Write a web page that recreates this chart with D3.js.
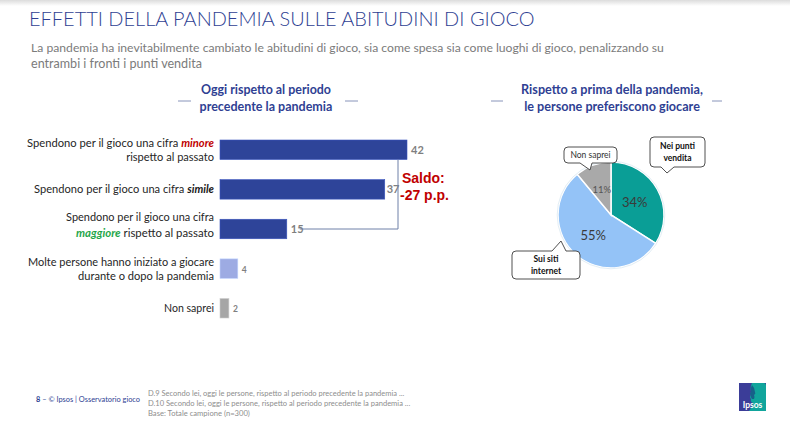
<!DOCTYPE html>
<html><head><meta charset="utf-8">
<script src="https://cdn.jsdelivr.net/npm/d3@7"></script>
<style>
html,body{margin:0;padding:0;background:#fff;}
svg{display:block;font-family:Lato,"Open Sans",sans-serif;}
</style></head>
<body>
<svg id="c" width="790" height="428"></svg>
<script>
// ---------- data ----------
const title = "EFFETTI DELLA PANDEMIA SULLE ABITUDINI DI GIOCO";
const subtitleLines = [
  "La pandemia ha inevitabilmente cambiato le abitudini di gioco, sia come spesa sia come luoghi di gioco, penalizzando su",
  "entrambi i fronti i punti vendita"
];
const leftHeader = ["Oggi rispetto al periodo", "precedente la pandemia"];
const rightHeader = ["Rispetto a prima della pandemia,", "le persone preferiscono giocare"];
const categories = [
  "Spendono per il gioco una cifra minore rispetto al passato",
  "Spendono per il gioco una cifra simile",
  "Spendono per il gioco una cifra maggiore rispetto al passato",
  "Molte persone hanno iniziato a giocare durante o dopo la pandemia",
  "Non saprei"
];
const categoryLines = [
  ["Spendono per il gioco una cifra minore", "rispetto al passato"],
  ["Spendono per il gioco una cifra simile"],
  ["Spendono per il gioco una cifra", "maggiore rispetto al passato"],
  ["Molte persone hanno iniziato a giocare", "durante o dopo la pandemia"],
  ["Non saprei"]
];
const values = [42, 37, 15, 4, 2];
const emphasis = {minore: "neg", simile: "neu", maggiore: "pos"};
const saldoLines = ["Saldo:", "-27 p.p."];
const pieLabels = ["Nei punti vendita", "Sui siti internet", "Non saprei"];
const pieValues = [34, 55, 11];
const footerLeft = "8 –  © Ipsos |  Osservatorio gioco";
const footerNotes = [
  "D.9 Secondo lei, oggi le persone, rispetto al periodo precedente la pandemia ...",
  "D.10 Secondo lei, oggi le persone, rispetto al periodo precedente la pandemia ...",
  "Base: Totale campione (n=300)"
];

// ---------- styles ----------
const BLUE = "#2f3f93";
const barColors = ["#2e4499", "#2e4499", "#2e4499", "#9dabe3", "#a6a6a6"];
const emphColors = {neg: "#c00000", neu: "#1a1a1a", pos: "#1fa64a"};
const pieColors = ["#0a9e96", "#94c3f7", "#a9a9a9"];

const svg = d3.select("#c");

function fitWidth(sel, target) {
  const w = sel.node().getComputedTextLength();
  const fs = parseFloat(sel.attr("font-size"));
  sel.attr("font-size", (fs * target / w).toFixed(2));
}

// top shadow
const defs = svg.append("defs");
const g0 = defs.append("linearGradient").attr("id", "topsh").attr("x1", 0).attr("x2", 0).attr("y1", 0).attr("y2", 1);
g0.append("stop").attr("offset", 0).attr("stop-color", "#dcdcdc");
g0.append("stop").attr("offset", 1).attr("stop-color", "#ffffff");
svg.append("rect").attr("x", 0).attr("y", 0).attr("width", 790).attr("height", 6).attr("fill", "url(#topsh)");

// title
const t = svg.append("text").attr("x", 29).attr("y", 26).attr("font-size", 21)
  .attr("fill", BLUE).attr("font-weight", 300).text(title);
fitWidth(t, 506);

// subtitle
subtitleLines.forEach((s, i) => {
  const st = svg.append("text").attr("x", 31).attr("y", 52 + i * 16).attr("font-size", 12.5)
    .attr("fill", "#7b7b7b").text(s);
  if (i === 0) fitWidth(st, 633);
  else fitWidth(st, 171);
});

// headers
function header(lines, cx, dashL, dashR, widths) {
  lines.forEach((s, i) => {
    const h = svg.append("text").attr("x", cx).attr("y", 94 + i * 17).attr("text-anchor", "middle")
      .attr("font-size", 12).attr("font-weight", 700).attr("fill", BLUE).text(s);
    fitWidth(h, widths[i]);
  });
  [dashL, dashR].forEach(d => svg.append("line").attr("x1", d[0]).attr("x2", d[1])
    .attr("y1", 101).attr("y2", 101).attr("stroke", "#6b7aa8").attr("stroke-width", 0.8));
}
header(leftHeader, 266, [178, 191], [345, 358], [130, 133]);
header(rightHeader, 612, [491, 503], [712, 722], [182, 176]);

// ---------- bar chart ----------
const idx = d3.range(categories.length);
const x = d3.scaleLinear().domain([0, 42]).range([220, 407]);
const y = d3.scaleBand().domain(idx).range([140, 318]).paddingInner(0.508).paddingOuter(0);

svg.append("g").selectAll("rect").data(idx).join("rect")
  .attr("x", x(0)).attr("y", i => y(i))
  .attr("width", i => x(values[i]) - x(0)).attr("height", y.bandwidth())
  .attr("fill", i => barColors[i])
  .attr("stroke", i => d3.color(barColors[i]).brighter(0.6)).attr("stroke-width", 0.6);

// value labels
svg.append("g").selectAll("text").data(idx).join("text")
  .attr("x", i => x(values[i]) + (i === 1 ? 2 : 4)).attr("y", i => y(i) + y.bandwidth() / 2 + 4)
  .attr("font-size", i => i < 3 ? 11 : 8.5).attr("font-weight", 700).attr("fill", "#7f7f7f")
  .text(i => values[i]);

// category labels
const catWidths = [[187, 88], [180], [148, 138], [186, 136], [50]];
const catShift = [0, 0, -4, 0, 0];
idx.forEach(i => {
  const lines = categoryLines[i];
  const cy = y(i) + y.bandwidth() / 2 + catShift[i];
  const lh = i === 2 ? 15.5 : 14;
  lines.forEach((ln, j) => {
    const ty = cy + 4 + (j - (lines.length - 1) / 2) * lh;
    const tx = svg.append("text").attr("x", 214).attr("y", ty).attr("text-anchor", "end")
      .attr("font-size", 11.5).attr("fill", "#262626");
    ln.split(/(\s+)/).forEach(w => {
      if (emphasis[w]) {
        tx.append("tspan").attr("font-weight", 700).attr("font-style", "italic")
          .attr("fill", emphColors[emphasis[w]]).text(w);
      } else {
        tx.append("tspan").text(w);
      }
    });
    fitWidth(tx, catWidths[i][j]);
  });
});

// bracket
const bx = x(42) - 9;
svg.append("path")
  .attr("d", `M${bx},${y(0) + y.bandwidth()} V${y(2) + y.bandwidth() / 2} H${x(15) + 13}`)
  .attr("fill", "none").attr("stroke", "#6f80a8").attr("stroke-width", 1);

// saldo
saldoLines.forEach((s, i) => {
  svg.append("text").attr("x", i === 0 ? 402 : 400).attr("y", 183 + i * 17)
    .attr("font-family", "Liberation Sans, Arial, sans-serif")
    .attr("font-size", 14).attr("font-weight", 700).attr("fill", "#c00000").text(s);
});

// ---------- pie ----------
const cx = 611, cy = 215, R = 53;
const pie = d3.pie().sort(null).value(d => d)(pieValues);
const arc = d3.arc().innerRadius(0).outerRadius(R);
const labArc = d3.arc().innerRadius(27).outerRadius(27);
const pg = svg.append("g").attr("transform", `translate(${cx},${cy})`);
pg.selectAll("path").data(pie).join("path")
  .attr("d", arc).attr("fill", (d, i) => pieColors[i])
  .attr("stroke", "#ffffff").attr("stroke-width", 1.5);
pg.append("circle").attr("r", R + 0.8).attr("fill", "none").attr("stroke", "#e3eef5").attr("stroke-width", 1);
pg.selectAll("text").data(pie).join("text")
  .attr("transform", d => { const c = labArc.centroid(d); return `translate(${c[0]},${c[1]})`; })
  .attr("text-anchor", "middle").attr("dy", "0.35em")
  .attr("font-size", (d, i) => i === 2 ? 9.5 : 13)
  .attr("fill", (d, i) => i === 2 ? "#555" : "#3a3a3a")
  .text(d => d.value + "%");

// callouts
function callout(bx0, by0, bx1, by1, tail, lines, bold) {
  const r = 4;
  let d = `M${bx0 + r},${by0}`;
  if (tail.side === "top") d += ` H${tail.a} L${tail.px},${tail.py} L${tail.b},${by0}`;
  d += ` H${bx1 - r} Q${bx1},${by0} ${bx1},${by0 + r} V${by1 - r} Q${bx1},${by1} ${bx1 - r},${by1}`;
  if (tail.side === "bottom") d += ` H${tail.b} L${tail.px},${tail.py} L${tail.a},${by1}`;
  d += ` H${bx0 + r} Q${bx0},${by1} ${bx0},${by1 - r} V${by0 + r} Q${bx0},${by0} ${bx0 + r},${by0} Z`;
  svg.append("path").attr("d", d).attr("fill", "#fff").attr("stroke", "#3c3c3c").attr("stroke-width", 0.9);
  const mx = (bx0 + bx1) / 2, my = (by0 + by1) / 2;
  lines.forEach((s, i) => {
    svg.append("text").attr("x", mx).attr("y", my + 3 + (i - (lines.length - 1) / 2) * 11.5)
      .attr("text-anchor", "middle").attr("font-size", 8.5)
      .attr("font-weight", bold ? 700 : 400).attr("fill", bold ? "#111" : "#333").text(s);
  });
}
callout(650, 137, 705, 167, {side: "bottom", a: 661, b: 674, px: 667, py: 173}, ["Nei punti", "vendita"], true);
callout(512, 251, 580, 279, {side: "top", a: 552, b: 566, px: 561, py: 241}, ["Sui siti", "internet"], true);
callout(564, 147, 617, 163, {side: "bottom", a: 580, b: 592, px: 590, py: 170}, ["Non saprei"], false);

// ---------- footer ----------
const fl = svg.append("text").attr("x", 36).attr("y", 402).attr("font-size", 6.8).attr("fill", BLUE);
fl.append("tspan").attr("font-weight", 700).text("8");
fl.append("tspan").text(footerLeft.slice(1));
fitWidth(fl, 104);
const noteW = [256, 262, 102];
footerNotes.forEach((s, i) => {
  const ft = svg.append("text").attr("x", 148).attr("y", 396 + i * 10).attr("font-size", 6.8)
    .attr("fill", "#8e8e8e").text(s);
  fitWidth(ft, noteW[i]);
});

// logo
const lg = svg.append("g").attr("transform", "translate(739,383)");
lg.append("rect").attr("x", 0).attr("y", 0).attr("width", 27).attr("height", 28).attr("fill", "#3b3d98");
lg.append("path").attr("d", "M13,0 H25 Q27,0 27,3 V28 H10 Q13,24 14,20 Q11,19 12,16 Q10,14 12,12 Q10,11 12,9 Q11,4 13,0 Z")
  .attr("fill", "#11a59c");
lg.append("path").attr("d", "M13,2 Q16,5 16,9 Q17,11 15,12 Q16,14 15,16 L13,16 Q11,14 12,12 Q10,11 12,9 Q11,5 13,2 Z")
  .attr("fill", "#1d2a7a").attr("opacity", 0.55);
lg.append("text").attr("x", 13.5).attr("y", 25).attr("text-anchor", "middle").attr("font-size", 8.5)
  .attr("font-weight", 700).attr("fill", "#fff").text("Ipsos");
</script>
</body></html>
